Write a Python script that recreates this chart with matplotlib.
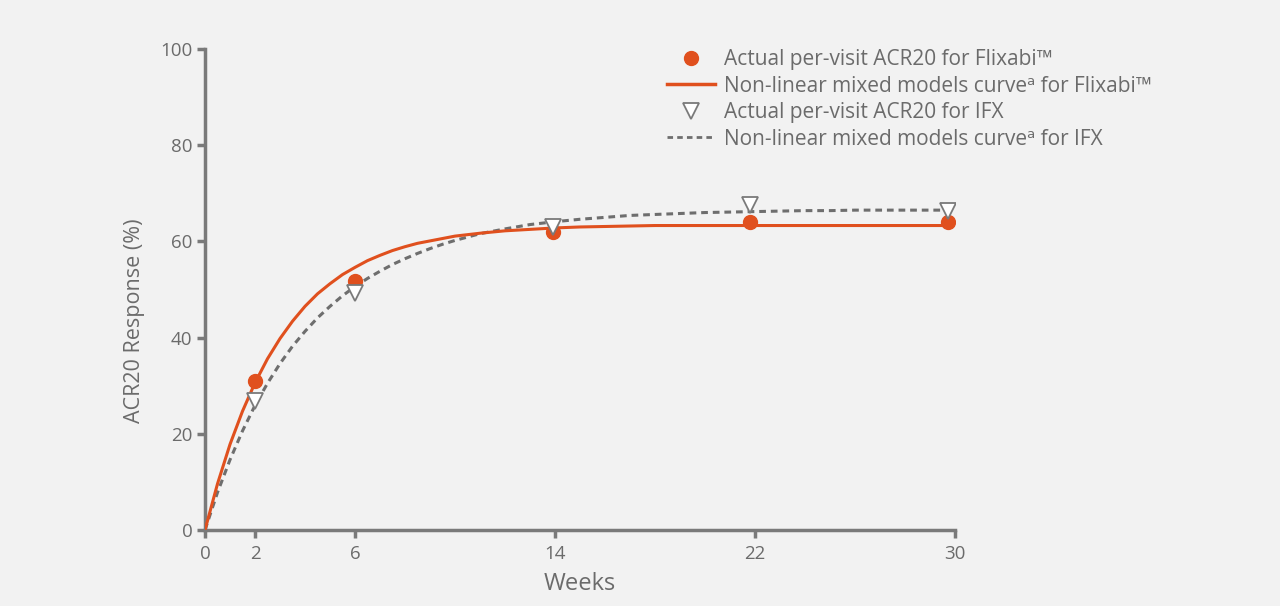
import matplotlib
matplotlib.use("Agg")
import matplotlib.pyplot as plt
from matplotlib.lines import Line2D

plt.rcParams['font.family'] = ['Open Sans', 'DejaVu Sans']

# Observed per-visit ACR20 (%)
flix_weeks = [2, 6, 13.9, 21.8, 29.7]
flix_acr20 = [31.0, 51.8, 62.0, 64.0, 64.1]
ifx_weeks = [2, 6, 13.9, 21.8, 29.7]
ifx_acr20 = [26.8, 49.3, 63.0, 67.6, 66.4]

# Model curves
curve_weeks = [0, 0.5, 1, 1.5, 2, 2.5, 3, 3.5, 4, 4.5, 5, 5.5, 6, 6.5, 7, 7.5,
               8, 8.5, 9, 9.5, 10, 11, 12, 13, 14, 15, 16, 17, 18, 19, 20,
               21, 22, 23, 24, 25, 26, 27, 28, 29, 29.7]
flix_curve = [0, 9.6, 17.8, 24.7, 30.6, 35.6, 39.8, 43.4, 46.5, 49.1, 51.2,
              53.1, 54.6, 56.0, 57.1, 58.1, 58.9, 59.6, 60.1, 60.6, 61.1,
              61.7, 62.2, 62.5, 62.8, 63.0, 63.1, 63.2, 63.3, 63.3, 63.3,
              63.3, 63.3, 63.3, 63.3, 63.3, 63.3, 63.3, 63.3, 63.3, 63.3]
ifx_curve = [0, 7.8, 14.6, 20.6, 25.9, 30.5, 34.6, 38.2, 41.3, 44.1, 46.5,
             48.7, 50.6, 52.3, 53.8, 55.2, 56.4, 57.5, 58.5, 59.4, 60.2,
             61.6, 62.6, 63.5, 64.1, 64.6, 65.0, 65.4, 65.6, 65.8, 66.0,
             66.1, 66.2, 66.3, 66.4, 66.4, 66.5, 66.5, 66.5, 66.5, 66.5]

x_ticks = [0, 2, 6, 14, 22, 30]
y_ticks = [0, 20, 40, 60, 80, 100]

legend_labels = [
    "Actual per-visit ACR20 for Flixabi\u2122",
    "Non-linear mixed models curve\u1d43 for Flixabi\u2122",
    "Actual per-visit ACR20 for IFX",
    "Non-linear mixed models curve\u1d43 for IFX",
]

ORANGE = "#E0501E"
GRAY = "#7a7a7a"
DASH_GRAY = "#6e6e6e"
TEXT = "#6b6b6b"
BG = "#f2f2f2"

fig = plt.figure(figsize=(12.8, 6.06), dpi=100, facecolor=BG)
ax = fig.add_axes([205/1280, 1 - 530/606, (955-205)/1280, (530-49)/606])
ax.set_facecolor(BG)

ax.plot(curve_weeks, ifx_curve, color=DASH_GRAY, lw=2.2, ls=(0, (2.2, 1.6)), zorder=2)
ax.plot(curve_weeks, flix_curve, color=ORANGE, lw=2.2, zorder=3)
ax.plot(flix_weeks, flix_acr20, 'o', color=ORANGE, ms=10, mec=ORANGE, zorder=4, ls='none')
ax.plot(ifx_weeks, ifx_acr20, 'v', color='white', ms=12, mec=GRAY, mew=1.3, zorder=5, ls='none')

ax.set_xlim(0, 30)
ax.set_ylim(0, 100)
ax.set_xticks(x_ticks)
ax.set_yticks(y_ticks)
for s in ['top', 'right']:
    ax.spines[s].set_visible(False)
for s in ['left', 'bottom']:
    ax.spines[s].set_color(GRAY)
    ax.spines[s].set_linewidth(2.5)
ax.tick_params(axis='both', colors=GRAY, width=2.5, length=6, labelsize=13.5,
               labelcolor=TEXT)
ax.tick_params(axis='x', pad=5)
ax.tick_params(axis='y', pad=3)
ax.set_xlabel("Weeks", fontsize=17, color=TEXT, labelpad=6)
ax.set_ylabel("ACR20 Response (%)", fontsize=15.5, color=TEXT)
ax.yaxis.set_label_coords(-0.080, (530 - 321) / 481)

handles = [
    Line2D([], [], marker='o', color=ORANGE, ms=10, ls='none'),
    Line2D([], [], color=ORANGE, lw=2.5),
    Line2D([], [], marker='v', color='white', mec=GRAY, mew=1.3, ms=12, ls='none'),
    Line2D([], [], color=DASH_GRAY, lw=2, ls=(0, (2, 1.5))),
]
leg = fig.legend(handles, legend_labels, loc='upper left',
                 bbox_to_anchor=(659/1280, 1 - 41/606), frameon=False,
                 fontsize=15, labelcolor=TEXT, handlelength=2.3,
                 handletextpad=0.42, labelspacing=0.26, borderaxespad=0)

fig.savefig("out.png", dpi=100, facecolor=BG)
